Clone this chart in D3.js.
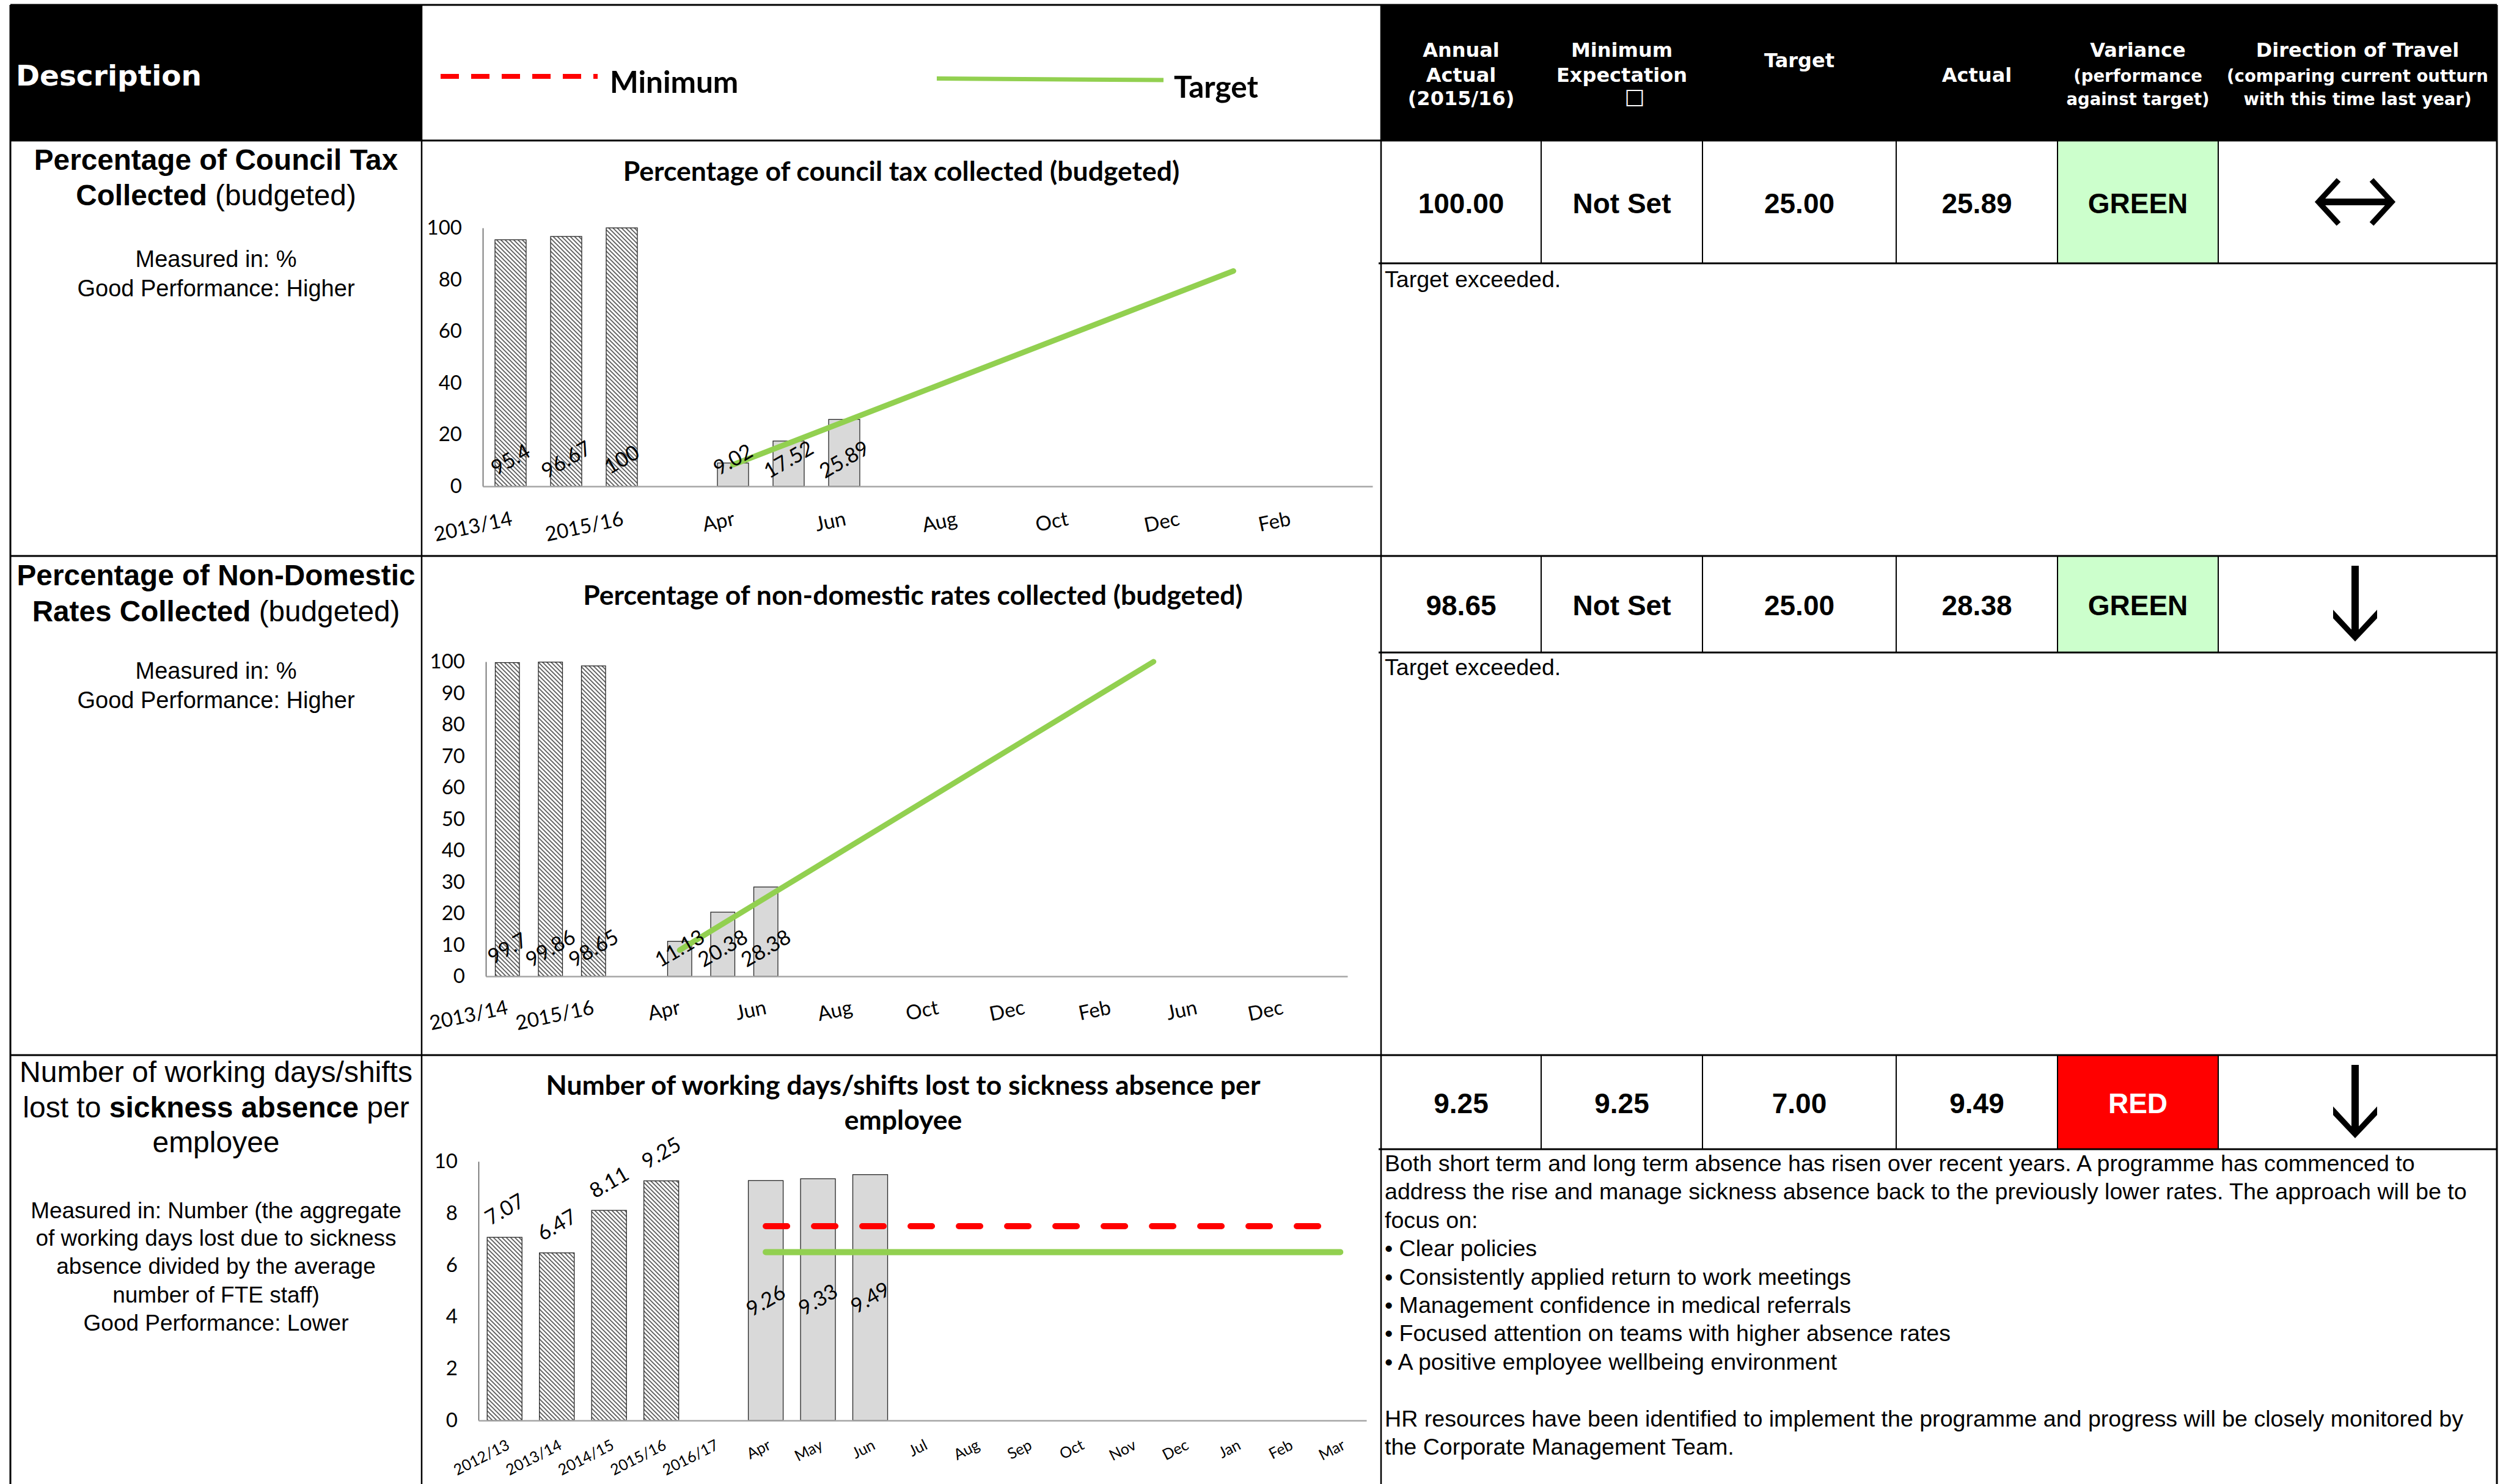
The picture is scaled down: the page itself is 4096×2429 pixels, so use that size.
<!DOCTYPE html>
<html>
<head>
<meta charset="utf-8">
<script src="https://cdn.jsdelivr.net/npm/d3@7"></script>
<style>
  body { margin: 0; background: #fff; }
  svg { display: block; }
</style>
</head>
<body>
<div id="plotDiv"></div>
<script>
// --- Data: council tax ---
const ctaxLabels = ["2013/14", "2014/15", "2015/16", "", "Apr", "May", "Jun", "Jul", "Aug", "Sep", "Oct", "Nov", "Dec", "Jan", "Feb", "Mar"];
const ctaxActual = [95.4, 96.67, 100, null, 9.02, 17.52, 25.89, null, null, null, null, null, null, null, null, null];
const ctaxTarget = [null, null, null, null, 8.33, 16.67, 25, 33.33, 41.67, 50, 58.33, 66.67, 75, 83.33, null, null];

// --- Data: non-domestic rates ---
const ndrLabels = ["2013/14", "2014/15", "2015/16", "", "Apr", "May", "Jun", "Jul", "Aug", "Sep", "Oct", "Nov", "Dec", "Jan", "Feb", "Mar", "Jun", "Sep", "Dec", "Mar"];
const ndrActual = [99.7, 99.86, 98.65, null, 11.13, 20.38, 28.38, null, null, null, null, null, null, null, null, null, null, null, null, null];
const ndrTarget = [null, null, null, null, 8.33, 16.67, 25, 33.33, 41.67, 50, 58.33, 66.67, 75, 83.33, 91.67, 100, null, null, null, null];

// --- Data: sickness absence ---
const sickLabels = ["2012/13", "2013/14", "2014/15", "2015/16", "2016/17", "Apr", "May", "Jun", "Jul", "Aug", "Sep", "Oct", "Nov", "Dec", "Jan", "Feb", "Mar"];
const sickActual = [7.07, 6.47, 8.11, 9.25, null, 9.26, 9.33, 9.49, null, null, null, null, null, null, null, null, null];
const sickMinimum = [null, null, null, null, null, 7.5, 7.5, 7.5, 7.5, 7.5, 7.5, 7.5, 7.5, 7.5, 7.5, 7.5, 7.5];
const sickTarget = [null, null, null, null, null, 6.5, 6.5, 6.5, 6.5, 6.5, 6.5, 6.5, 6.5, 6.5, 6.5, 6.5, 6.5];

// --- Data: table ---
const tableValues = [
  ["100.00", "Not Set", "25.00", "25.89", "GREEN"],
  ["98.65", "Not Set", "25.00", "28.38", "GREEN"],
  ["9.25", "9.25", "7.00", "9.49", "RED"]
];
const directions = ["both", "down", "down"];
const comments = [
  ["Target exceeded."],
  ["Target exceeded."],
  ["Both short term and long term absence has risen over recent years. A programme has commenced to",
   "address the rise and manage sickness absence back to the previously lower rates. The approach will be to",
   "focus on:",
   "\u2022 Clear policies",
   "\u2022 Consistently applied return to work meetings",
   "\u2022 Management confidence in medical referrals",
   "\u2022 Focused attention on teams with higher absence rates",
   "\u2022 A positive employee wellbeing environment",
   "",
   "HR resources have been identified to implement the programme and progress will be closely monitored by",
   "the Corporate Management Team."]
];

// --- Layout ---
const W = 4096, H = 2429;
const tLeft = 17, tRight = 4086, tTop = 8;
const descX = 690, chartX = 2260;
const colX = [2260, 2522, 2786, 3103, 3367, 3630, 4086];
const headBottom = 230;
const rowTop = [230, 910, 1727];
const dataBottom = [431, 1068, 1881];
const valueBase = [349, 1007, 1822];
const commentBase = [470, 1105, 1917];

const ARIAL = "'Liberation Sans', Arial, sans-serif";
const VERD = "'DejaVu Sans', Verdana, sans-serif";
const CAL = "Lato, 'Open Sans', sans-serif";

const svg = d3.select("#plotDiv").append("svg")
  .attr("width", W).attr("height", H);

// hatch pattern for annual bars
const defs = svg.append("defs");
const pat = defs.append("pattern").attr("id", "hatch")
  .attr("patternUnits", "userSpaceOnUse").attr("width", 7).attr("height", 7);
pat.append("rect").attr("width", 7).attr("height", 7).attr("fill", "#fff");
pat.append("path").attr("d", "M-1,-1L8,8M-1,6L1,8M6,-1L8,1")
  .attr("stroke", "#5f5f5f").attr("stroke-width", 1.9);

// --- Header ---
svg.append("rect").attr("x", tLeft).attr("y", tTop).attr("width", descX - tLeft).attr("height", headBottom - tTop).attr("fill", "#000");
svg.append("rect").attr("x", chartX).attr("y", tTop).attr("width", tRight - chartX).attr("height", headBottom - tTop).attr("fill", "#000");

svg.append("text").attr("x", 26).attr("y", 140)
  .attr("font-family", VERD).attr("font-weight", "bold").attr("font-size", 47)
  .attr("fill", "#fff").text("Description");

// legend
svg.append("line").attr("x1", 721).attr("x2", 978).attr("y1", 125).attr("y2", 125)
  .attr("stroke", "#ff0000").attr("stroke-width", 8).attr("stroke-dasharray", "30,20");
svg.append("text").attr("x", 998).attr("y", 152)
  .attr("font-family", CAL).attr("font-weight", "bold").attr("font-size", 49.5).text("Minimum");
svg.append("line").attr("x1", 1533).attr("x2", 1904).attr("y1", 128.5).attr("y2", 131)
  .attr("stroke", "#92D050").attr("stroke-width", 7);
svg.append("text").attr("x", 1921).attr("y", 160)
  .attr("font-family", CAL).attr("font-weight", "bold").attr("font-size", 49.5).text("Target");

// right header labels: [column, baseline, text, size]
const headerText = [
  [0, 93, "Annual", 32], [0, 134, "Actual", 32], [0, 172, "(2015/16)", 32],
  [1, 93, "Minimum", 32], [1, 134, "Expectation", 32],
  [2, 110, "Target", 32],
  [3, 134, "Actual", 32],
  [4, 93, "Variance", 32], [4, 134, "(performance", 27.5], [4, 172, "against target)", 27.5],
  [5, 93, "Direction of Travel", 32], [5, 134, "(comparing current outturn", 27.5], [5, 172, "with this time last year)", 27.5]
];
svg.append("g").selectAll("text").data(headerText).join("text")
  .attr("x", d => (colX[d[0]] + colX[d[0] + 1]) / 2)
  .attr("y", d => d[1])
  .attr("text-anchor", "middle")
  .attr("font-family", VERD).attr("font-weight", "bold")
  .attr("font-size", d => d[3]).attr("fill", "#fff")
  .text(d => d[2]);
svg.append("text").attr("x", 2675).attr("y", 174).attr("text-anchor", "middle")
  .attr("font-family", VERD).attr("font-size", 37).attr("fill", "#fff").text("\u2610");

// --- Descriptions (left column) ---
const descCx = (tLeft + descX) / 2;
const descBlocks = [
  [[278, 47.7, [["Percentage of Council Tax", "bold"]]],
   [336, 47.7, [["Collected", "bold"], [" (budgeted)", "normal"]]],
   [437, 38, [["Measured in: %", "normal"]]],
   [485, 38, [["Good Performance: Higher", "normal"]]]],
  [[958, 47.7, [["Percentage of Non-Domestic", "bold"]]],
   [1017, 47.7, [["Rates Collected", "bold"], [" (budgeted)", "normal"]]],
   [1111, 38, [["Measured in: %", "normal"]]],
   [1159, 38, [["Good Performance: Higher", "normal"]]]],
  [[1771, 48, [["Number of working days/shifts", "normal"]]],
   [1829, 48, [["lost to ", "normal"], ["sickness absence", "bold"], [" per", "normal"]]],
   [1886, 48, [["employee", "normal"]]],
   [1994, 37, [["Measured in: Number (the aggregate", "normal"]]],
   [2039, 37, [["of working days lost due to sickness", "normal"]]],
   [2085, 37, [["absence divided by the average", "normal"]]],
   [2132, 37, [["number of FTE staff)", "normal"]]],
   [2178, 37, [["Good Performance: Lower", "normal"]]]]
];
descBlocks.forEach(block => {
  block.forEach(line => {
    const t = svg.append("text").attr("x", descCx).attr("y", line[0])
      .attr("text-anchor", "middle").attr("font-family", ARIAL).attr("font-size", line[1]);
    line[2].forEach(p => t.append("tspan").attr("font-weight", p[1]).text(p[0]));
  });
});

// --- Right panel: values, variance, arrows, comments ---
tableValues.forEach((vals, r) => {
  const fill = vals[4] === "RED" ? "#ff0000" : "#ccffcc";
  svg.append("rect").attr("x", colX[4]).attr("y", rowTop[r])
    .attr("width", colX[5] - colX[4]).attr("height", dataBottom[r] - rowTop[r]).attr("fill", fill);
  vals.forEach((v, c) => {
    svg.append("text").attr("x", (colX[c] + colX[c + 1]) / 2).attr("y", valueBase[r])
      .attr("text-anchor", "middle").attr("font-family", ARIAL).attr("font-weight", "bold")
      .attr("font-size", 46).attr("fill", v === "RED" ? "#fff" : "#000").text(v);
  });
  const cx = 3854;
  if (directions[r] === "both") {
    const cy = (rowTop[r] + dataBottom[r]) / 2;
    svg.append("line").attr("x1", cx - 56).attr("x2", cx + 56).attr("y1", cy).attr("y2", cy)
      .attr("stroke", "#000").attr("stroke-width", 11);
    svg.append("path")
      .attr("d", `M${cx - 27},${cy - 36}L${cx - 60},${cy}L${cx - 27},${cy + 36}M${cx + 27},${cy - 36}L${cx + 60},${cy}L${cx + 27},${cy + 36}`)
      .attr("fill", "none").attr("stroke", "#000").attr("stroke-width", 9);
  } else {
    const y1 = rowTop[r] + 16, tip = dataBottom[r] - 18;
    svg.append("rect").attr("x", cx - 6).attr("y", y1).attr("width", 12).attr("height", tip - y1 - 12).attr("fill", "#000");
    svg.append("path")
      .attr("d", `M${cx - 36},${tip - 52}L${cx - 36},${tip - 38}L${cx},${tip}L${cx + 36},${tip - 38}L${cx + 36},${tip - 52}L${cx},${tip - 13}Z`)
      .attr("fill", "#000");
  }
  comments[r].forEach((line, i) => {
    svg.append("text").attr("x", 2266).attr("y", commentBase[r] + i * 46.4)
      .attr("font-family", ARIAL).attr("font-size", 37.6).text(line);
  });
});

// --- Charts ---
function drawChart(cfg) {
  const n = cfg.labels.length;
  const x = d3.scaleBand().domain(d3.range(n)).range([cfg.x0, cfg.x1])
    .paddingInner(cfg.pad).paddingOuter(cfg.pad / 2);
  const y = d3.scaleLinear().domain([0, cfg.yMax]).range([cfg.y0, cfg.yTop]);
  const cxOf = i => x(i) + x.bandwidth() / 2;
  const g = svg.append("g");

  // title
  cfg.title.forEach((t, i) => {
    g.append("text").attr("x", cfg.titleX).attr("y", cfg.titleY[i]).attr("text-anchor", "middle")
      .attr("font-family", CAL).attr("font-weight", "bold").attr("font-size", 44.5).text(t);
  });

  // y axis
  const ya = g.append("g").attr("transform", `translate(${cfg.x0},0)`)
    .call(d3.axisLeft(y).tickValues(cfg.yTicks).tickSize(0).tickSizeOuter(0).tickPadding(34));
  ya.attr("font-family", CAL).attr("font-size", 33);
  ya.select(".domain").attr("stroke", "#595959").attr("stroke-width", 1.5);
  ya.selectAll("text").attr("fill", "#000");

  // bars
  const bars = cfg.actual.map((v, i) => ({ i, v })).filter(d => d.v != null);
  g.selectAll("rect.bar").data(bars).join("rect").attr("class", "bar")
    .attr("x", d => x(d.i)).attr("width", x.bandwidth())
    .attr("y", d => y(d.v)).attr("height", d => y(0) - y(d.v))
    .attr("fill", d => d.i < cfg.annualCount ? "url(#hatch)" : "#d9d9d9")
    .attr("stroke", "#262626").attr("stroke-width", 1.3);

  // x axis
  const xa = g.append("g").attr("transform", `translate(0,${cfg.y0})`)
    .call(d3.axisBottom(x).tickSize(0).tickSizeOuter(0)
      .tickFormat(i => i % cfg.every === 0 ? cfg.labels[i] : ""));
  xa.attr("font-family", CAL).attr("font-size", cfg.labelSize);
  xa.select(".domain").attr("stroke", "#a6a6a6").attr("stroke-width", 2.5);
  xa.selectAll("text").attr("fill", "#000").attr("x", 0).attr("y", 0).attr("dy", "0.35em")
    .attr("text-anchor", "end")
    .attr("transform", `translate(${cfg.labelDx},${cfg.labelOff}) rotate(${cfg.labelRot})`);

  // lines
  cfg.lines.forEach(ln => {
    const line = d3.line().defined(d => d != null).x((d, i) => cxOf(i)).y(d => y(d));
    g.append("path").attr("d", line(ln.values)).attr("fill", "none")
      .attr("stroke", ln.color).attr("stroke-width", ln.width)
      .attr("stroke-linecap", "round").attr("stroke-dasharray", ln.dash);
  });

  // data labels
  g.selectAll("text.dl").data(bars).join("text").attr("class", "dl")
    .attr("transform", d => {
      let ly;
      if (cfg.dataLabel === "base") ly = y(0) - cfg.baseOff;
      else ly = d.i < cfg.annualCount ? y(d.v) - 46 : (y(d.v) + y(0)) / 2;
      return `translate(${cxOf(d.i)},${ly}) rotate(-30)`;
    })
    .attr("text-anchor", "middle").attr("dy", "0.35em")
    .attr("font-family", CAL).attr("font-size", 34).text(d => d.v);
}

drawChart({
  labels: ctaxLabels, actual: ctaxActual, annualCount: 3,
  lines: [{ values: ctaxTarget, color: "#92D050", width: 9, dash: null }],
  x0: 790, x1: 2246, y0: 796, yTop: 373, yMax: 100, yTicks: [0, 20, 40, 60, 80, 100],
  pad: 0.44, every: 2, labelSize: 33, labelRot: -12, labelOff: 52, labelDx: 2,
  title: ["Percentage of council tax collected (budgeted)"], titleX: 1475, titleY: [296],
  dataLabel: "base", baseOff: 44
});
drawChart({
  labels: ndrLabels, actual: ndrActual, annualCount: 3,
  lines: [{ values: ndrTarget, color: "#92D050", width: 9, dash: null }],
  x0: 795, x1: 2205, y0: 1598, yTop: 1083, yMax: 100, yTicks: d3.range(0, 101, 10),
  pad: 0.44, every: 2, labelSize: 33, labelRot: -12, labelOff: 50, labelDx: 0,
  title: ["Percentage of non-domestic rates collected (budgeted)"], titleX: 1494, titleY: [990],
  dataLabel: "base", baseOff: 46
});
drawChart({
  labels: sickLabels, actual: sickActual, annualCount: 5,
  lines: [{ values: sickTarget, color: "#92D050", width: 10, dash: null },
          { values: sickMinimum, color: "#ff0000", width: 10, dash: "35,44" }],
  x0: 783, x1: 2236, y0: 2325, yTop: 1901, yMax: 10, yTicks: [0, 2, 4, 6, 8, 10],
  pad: 0.333, every: 1, labelSize: 25, labelRot: -27, labelOff: 38, labelDx: 6,
  title: ["Number of working days/shifts lost to sickness absence per", "employee"], titleX: 1478, titleY: [1792, 1849],
  dataLabel: "mixed"
});

// --- Grid lines of the table ---
const grid = svg.append("g").attr("stroke", "#000").attr("fill", "none");
grid.append("line").attr("x1", tLeft).attr("x2", tRight).attr("y1", tTop).attr("y2", tTop).attr("stroke-width", 3);
grid.append("line").attr("x1", tLeft).attr("x2", tLeft).attr("y1", tTop).attr("y2", H).attr("stroke-width", 3);
grid.append("line").attr("x1", tRight).attr("x2", tRight).attr("y1", tTop).attr("y2", H).attr("stroke-width", 3);
[descX, chartX].forEach(xv => grid.append("line").attr("x1", xv).attr("x2", xv).attr("y1", tTop).attr("y2", H).attr("stroke-width", 2.5));
[headBottom, rowTop[1], rowTop[2]].forEach(yv => grid.append("line").attr("x1", tLeft).attr("x2", tRight).attr("y1", yv).attr("y2", yv).attr("stroke-width", 3));
dataBottom.forEach((yv, r) => {
  grid.append("line").attr("x1", chartX - 4).attr("x2", tRight).attr("y1", yv).attr("y2", yv).attr("stroke-width", 3);
  colX.slice(1, 6).forEach(xv => grid.append("line").attr("x1", xv).attr("x2", xv)
    .attr("y1", rowTop[r]).attr("y2", yv).attr("stroke-width", 2));
});
</script>
</body>
</html>
